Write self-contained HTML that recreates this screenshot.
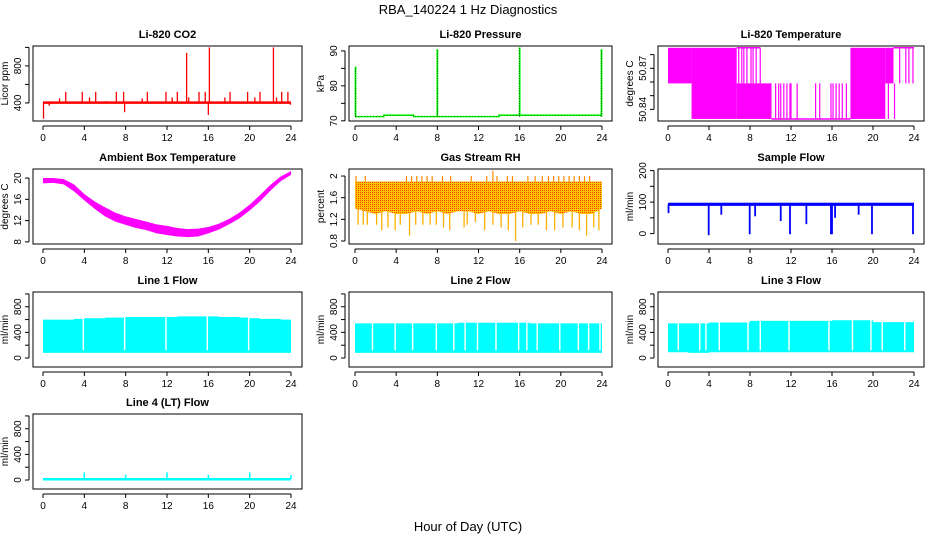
<!DOCTYPE html>
<html><head><meta charset="utf-8"><style>
body{margin:0;background:#fff;}
svg{display:block;font-family:"Liberation Sans",Arial,sans-serif;}
</style></head><body>
<svg id="root" width="936" height="540" viewBox="0 0 936 540">
<defs>
<pattern id="rhpat" width="2" height="2" patternUnits="userSpaceOnUse">
<rect width="2" height="2" fill="#ffc400"/><rect width="1" height="1" fill="#ff4000"/>
</pattern>
</defs>
<text x="468" y="14" text-anchor="middle" font-size="13">RBA_140224  1 Hz Diagnostics</text>
<text x="468" y="531" text-anchor="middle" font-size="13">Hour of Day (UTC)</text>
</svg>
<script>
// ---------- data ----------
const hourTicks = [0,4,8,12,16,20,24];
const co2Base = 403;
const co2SpikeT = [0.05,0.6,1.6,2.2,3.8,4.5,5.1,6.1,7.1,7.8,7.9,9.6,10.1,11.9,12.5,13.0,13.9,14.1,15.1,15.7,16.0,16.1,17.6,18.1,19.8,20.5,21.0,22.3,22.6,23.1,23.7,23.95];
const co2SpikeV = [230,370,450,520,520,460,520,420,520,520,300,450,520,520,460,520,940,460,520,520,270,1000,460,520,520,460,520,1000,460,520,520,380];
const presBaseT = [0,2.8,2.8,5.7,5.7,14,14,24];
const presBaseV = [71.2,71.2,71.6,71.6,71.2,71.2,71.6,71.6];
const presSpikeT = [0.05,8.0,16.0,23.95];
const presSpikeV = [85.5,90.5,91.0,90.5];
const tempT = 50.885, tempM = 50.859, tempB = 50.833;
const tempSegStart = [0,2.3,6.7,17.8,21.2];
const tempSegEnd = [2.3,6.7,10.1,21.2,22.0];
const tempSegHi = [tempT,tempT,tempM,tempT,tempT];
const tempSegLo = [tempM,tempB,tempB,tempB,tempM];
const tempLineT = [6.9,7.2,7.4,7.7,8.1,8.3,8.6,9.0,10.5,10.8,11.0,11.3,11.6,11.9,12.0,12.6,14.4,14.8,15.9,16.1,16.4,16.7,17.0,17.4,21.5,22.1,22.6,23.2,23.5,23.9];
const tempLineHi = [tempT,tempT,tempT,tempT,tempT,tempT,tempT,tempT,tempM,tempM,tempM,tempM,tempM,tempM,tempM,tempM,tempM,tempM,tempM,tempM,tempM,tempM,tempM,tempM,tempM,tempM,tempT,tempT,tempT,tempT];
const tempLineLo = [tempM,tempM,tempM,tempM,tempM,tempM,tempM,tempM,tempB,tempB,tempB,tempB,tempB,tempB,tempB,tempB,tempB,tempB,tempB,tempB,tempB,tempB,tempB,tempB,tempB,tempB,tempM,tempM,tempM,tempM];
const ambHours = [0,1,2,3,4,5,6,7,8,9,10,11,12,13,14,15,16,17,18,19,20,21,22,23,24];
const ambUpper = [20,20,19.8,18.8,17,15.6,14.5,13.5,12.8,12.3,11.8,11.3,11,10.6,10.4,10.5,10.8,11.4,12.3,13.5,15,16.8,18.7,20.3,21.3];
const ambLower = [19,19.1,18.8,17.5,15.8,14.2,12.8,11.8,11.2,10.6,10.2,9.6,9.3,9,8.9,9,9.6,10.3,11.3,12.4,13.9,15.6,17.6,19.4,20.6];
const rhUpper = [1.9,1.9,1.9,1.9,1.9,1.9,1.9,1.9,1.9,1.9,1.9,1.9,1.9,1.9,1.9,1.9,1.9,1.9,1.9,1.9,1.9,1.9,1.9,1.9,1.9];
const rhLower = [1.4,1.35,1.3,1.35,1.3,1.3,1.35,1.3,1.35,1.3,1.35,1.35,1.3,1.35,1.3,1.3,1.35,1.3,1.3,1.35,1.3,1.35,1.3,1.3,1.4];
const rhSpikeT = [0.3,0.8,1.2,2.1,2.6,3.2,3.9,4.4,5.3,5.9,6.6,7.3,7.9,8.6,9.2,10.6,10.9,11.7,12.6,13.4,14.2,14.9,15.6,16.3,17.1,17.8,18.6,19.4,20.2,21.1,21.8,22.5,23.2,23.7];
const rhSpikeV = [1.1,1.1,1.1,1.1,1.0,1.05,1.0,1.1,0.9,1.1,1.1,1.1,1.1,1.05,1.0,1.05,1.1,1.15,1.0,1.1,1.05,1.0,0.8,1.05,1.1,1.1,1.0,1.0,1.05,1.05,1.0,0.9,1.05,1.0];
const rhUpT = [0.1,1.0,5.0,5.5,6.0,6.5,7.0,7.5,8.5,9.3,11.3,12.8,13.4,13.8,14.8,15.3,16.8,17.5,18.2,18.8,19.3,19.8,20.3,20.8,21.3,21.8,22.3,22.8];
const rhUpV = [2.0,2.0,2.0,2.0,2.0,2.0,2.0,2.0,2.0,2.0,2.0,2.0,2.1,2.0,2.0,2.0,2.0,2.0,2.0,2.0,2.0,2.0,2.0,2.0,2.0,2.0,2.0,2.0];
const flowBaseHi = 98, flowBaseLo = 88;
const flowDipT = [0.05,3.97,5.2,7.97,8.5,11.0,11.9,13.5,15.9,16.0,16.3,18.6,19.9,23.9];
const flowDipV = [65,-5,60,-2,55,40,-2,30,-2,-2,50,60,-2,-2];
const lineHours = [0,1,2,3,4,5,6,7,8,9,10,11,12,13,14,15,16,17,18,19,20,21,22,23,24];
const line1Top = [600,600,600,610,620,620,630,630,640,640,640,640,640,650,650,650,650,640,640,630,620,610,610,600,520];
const line1Bot = [80,80,80,80,80,80,80,80,80,80,80,80,80,80,80,80,80,80,80,80,80,80,80,80,80];
const line1Gap = [3.9,7.9,11.9,15.9,19.9];
const line2Top = [540,540,540,540,540,540,540,540,540,540,550,550,550,550,550,550,550,540,540,540,540,540,540,540,480];
const line2Bot = [80,80,80,80,80,80,80,80,80,80,80,80,80,80,80,80,80,80,80,80,80,80,80,80,80];
const line2Gap = [1.7,3.9,5.6,7.9,9.6,10.7,11.9,13.7,15.9,16.7,17.7,19.9,21.7,22.7,23.8];
const line3Top = [540,540,540,540,555,555,555,555,580,580,580,580,580,580,580,580,590,590,590,590,560,560,560,560,460];
const line3Bot = [90,90,80,80,90,90,90,90,90,90,90,90,90,90,90,90,90,90,90,90,90,90,90,90,90];
const line3Gap = [1.0,3.1,3.7,5.0,7.8,9.0,11.8,15.7,18.0,19.8,20.9,23.1];
const line4Base = 12;
const line4SpikeT = [4,8,12,16,20,24];
const line4SpikeV = [120,80,120,80,120,80];

// ---------- layout ----------
const NS = "http://www.w3.org/2000/svg";
const root = document.getElementById('root');
const colBox = [[33,302],[349,612],[658,924]];
const colX = [[43,291],[355,602],[668,914]];
const rowTop = [46,169,292,414];
const BOXH = 75;
function mk(tag, parent){ const e=document.createElementNS(NS,tag); parent.appendChild(e); return e; }

function panel(col,row,name,title,ylab,ydom,ticks,labels){
  const g = mk('g',root);
  
  
  const bx0=colBox[col][0], bx1=colBox[col][1], by0=rowTop[row], by1=rowTop[row]+BOXH;
  const sx = h => colX[col][0] + (colX[col][1]-colX[col][0])*h/24;
  const sy = v => by1 - (v-ydom[0])/(ydom[1]-ydom[0])*BOXH;
  const clip = mk('clipPath',g); clip.setAttribute('id','clip-'+name);
  const cr = mk('rect',clip); cr.setAttribute('x',bx0); cr.setAttribute('y',by0); cr.setAttribute('width',bx1-bx0); cr.setAttribute('height',BOXH);
  const plot = mk('g',g); plot.setAttribute('clip-path','url(#clip-'+name+')');
  
  
  const t = mk('text',g); t.textContent=title;
  t.setAttribute('x',(bx0+bx1)/2); t.setAttribute('y',by0-8); t.setAttribute('text-anchor','middle');
  t.setAttribute('font-size','11'); t.setAttribute('font-weight','bold');
  
  
  const yl = mk('text',g); yl.textContent=ylab;
  const ylx=bx0-25, yly=(by0+by1)/2;
  yl.setAttribute('transform','translate('+ylx+','+yly+') rotate(-90)'); yl.setAttribute('text-anchor','middle'); yl.setAttribute('font-size','10');
  
  
  const xa = mk('g',g);
  
  
  const axY = by1+5;
  const xl = mk('line',xa); xl.setAttribute('x1',sx(0)); xl.setAttribute('x2',sx(24)); xl.setAttribute('y1',axY); xl.setAttribute('y2',axY); xl.setAttribute('stroke','#000');
  hourTicks.forEach(h=>{
    const tk = mk('line',xa); tk.setAttribute('x1',sx(h)); tk.setAttribute('x2',sx(h)); tk.setAttribute('y1',axY); tk.setAttribute('y2',axY+4); tk.setAttribute('stroke','#000');
    const tl = mk('text',xa); tl.textContent=h; tl.setAttribute('x',sx(h)); tl.setAttribute('y',axY+15); tl.setAttribute('text-anchor','middle'); tl.setAttribute('font-size','10');
    
    
  });
  const ya = mk('g',g);
  
  
  const axX = bx0-4;
  const yline = mk('line',ya); yline.setAttribute('x1',axX); yline.setAttribute('x2',axX); yline.setAttribute('y1',sy(ticks[0])); yline.setAttribute('y2',sy(ticks[ticks.length-1])); yline.setAttribute('stroke','#000');
  ticks.forEach(v=>{
    const tk = mk('line',ya); tk.setAttribute('x1',axX-4); tk.setAttribute('x2',axX); tk.setAttribute('y1',sy(v)); tk.setAttribute('y2',sy(v)); tk.setAttribute('stroke','#000');
  });
  labels.forEach(v=>{
    const tl = mk('text',ya); tl.textContent=v;
    tl.setAttribute('transform','translate('+(axX-8)+','+sy(v)+') rotate(-90)'); tl.setAttribute('text-anchor','middle'); tl.setAttribute('font-size','10');
    
    
  });
  const box = mk('rect',g); box.setAttribute('x',bx0); box.setAttribute('y',by0); box.setAttribute('width',bx1-bx0); box.setAttribute('height',BOXH);
  box.setAttribute('fill','none'); box.setAttribute('stroke','#000');
  return {plot,sx,sy};
}
function vline(p,parent,h,v1,v2,color,w,name){
  const l = mk('line',parent);
  l.setAttribute('x1',p.sx(h)); l.setAttribute('x2',p.sx(h)); l.setAttribute('y1',p.sy(v1)); l.setAttribute('y2',p.sy(v2));
  l.setAttribute('stroke',color); l.setAttribute('stroke-width',w);
  
  
  return l;
}
function band(p,parent,xs,hi,lo,fill,name,step){
  const pts=[];
  for(let i=0;i<xs.length;i++){
    if(step && i>0) pts.push(p.sx(xs[i])+','+p.sy(hi[i-1]));
    pts.push(p.sx(xs[i])+','+p.sy(hi[i]));
  }
  for(let i=xs.length-1;i>=0;i--){
    pts.push(p.sx(xs[i])+','+p.sy(lo[i]));
    if(step && i>0) pts.push(p.sx(xs[i])+','+p.sy(lo[i-1]));
  }
  const pg = mk('polygon',parent); pg.setAttribute('points',pts.join(' ')); pg.setAttribute('fill',fill);
  
  
  return pg;
}

// CO2
{
  const p = panel(0,0,'co2','Li-820 CO2','Licor ppm',[205,1015],[400,600,800,1000],[400,800]);
  co2SpikeT.forEach((h,i)=>{ vline(p,p.plot,h,co2Base,co2SpikeV[i],'#ff0000',1.3,'co2-spike'); });
  const b = mk('line',p.plot); b.setAttribute('x1',p.sx(0)); b.setAttribute('x2',p.sx(24)); b.setAttribute('y1',p.sy(co2Base)); b.setAttribute('y2',p.sy(co2Base)); b.setAttribute('stroke','#ff0000'); b.setAttribute('stroke-width','2.5');
  
  
}
// Pressure
{
  const p = panel(1,0,'pressure','Li-820 Pressure','kPa',[69.95,91.4],[70,75,80,85,90],[70,80,90]);
  const pl = mk('polyline',p.plot);
  pl.setAttribute('points',presBaseT.map((h,i)=>p.sx(h)+','+p.sy(presBaseV[i])).join(' '));
  pl.setAttribute('fill','none'); pl.setAttribute('stroke','#00ff00'); pl.setAttribute('stroke-width','1.6');
  
  
  presSpikeT.forEach((h,i)=>{
    vline(p,p.plot,h,71.2,presSpikeV[i],'#00ff00',1.8,'pressure-spike');
    const d = vline(p,p.plot,h,71.2,presSpikeV[i],'#000',0.7,'pressure-spike-dots'); d.setAttribute('stroke-dasharray','1,1.5');
  });
  const pd = mk('polyline',p.plot);
  pd.setAttribute('points',presBaseT.map((h,i)=>p.sx(h)+','+p.sy(presBaseV[i])).join(' '));
  pd.setAttribute('fill','none'); pd.setAttribute('stroke','#000'); pd.setAttribute('stroke-width','0.5'); pd.setAttribute('stroke-dasharray','1,2');
  
  
}
// Li-820 temperature
{
  const p = panel(2,0,'li820-temp','Li-820 Temperature','degrees C',[50.8315,50.8863],[50.84,50.85,50.86,50.87,50.88],[50.84,50.87]);
  tempSegStart.forEach((s,i)=>{
    const r = mk('rect',p.plot);
    r.setAttribute('x',p.sx(s)); r.setAttribute('width',p.sx(tempSegEnd[i])-p.sx(s));
    r.setAttribute('y',p.sy(tempSegHi[i])); r.setAttribute('height',p.sy(tempSegLo[i])-p.sy(tempSegHi[i]));
    r.setAttribute('fill','#ff00ff');
    
    
  });
  const bl = mk('line',p.plot); bl.setAttribute('x1',p.sx(10.1)); bl.setAttribute('x2',p.sx(17.8)); bl.setAttribute('y1',p.sy(tempB)); bl.setAttribute('y2',p.sy(tempB)); bl.setAttribute('stroke','#ff00ff'); bl.setAttribute('stroke-width','1.5');
  
  
  const tl = mk('line',p.plot); tl.setAttribute('x1',p.sx(6.7)); tl.setAttribute('x2',p.sx(9)); tl.setAttribute('y1',p.sy(tempT)); tl.setAttribute('y2',p.sy(tempT)); tl.setAttribute('stroke','#ff00ff'); tl.setAttribute('stroke-width','1.5');
  
  
  const tl2 = mk('line',p.plot); tl2.setAttribute('x1',p.sx(22)); tl2.setAttribute('x2',p.sx(24)); tl2.setAttribute('y1',p.sy(tempT)); tl2.setAttribute('y2',p.sy(tempT)); tl2.setAttribute('stroke','#ff00ff'); tl2.setAttribute('stroke-width','1.5');
  
  
  tempLineT.forEach((h,i)=>{ vline(p,p.plot,h,tempLineLo[i],tempLineHi[i],'#ff00ff',1.2,'temp-toggle'); });
}
// Ambient
{
  const p = panel(0,1,'ambient-temp','Ambient Box Temperature','degrees C',[7.6,21.7],[8,12,16,20],[8,12,16,20]);
  band(p,p.plot,ambHours,ambUpper,ambLower,'#ff00ff','ambient-band',false);
}
// RH
{
  const p = panel(1,1,'gas-rh','Gas Stream RH','percent',[0.745,2.13],[0.8,1.2,1.6,2.0],[0.8,1.2,1.6,2.0]);
  rhSpikeT.forEach((h,i)=>{ vline(p,p.plot,h,1.4,rhSpikeV[i],'#ffb000',1.3,'rh-down-spike'); });
  rhUpT.forEach((h,i)=>{ vline(p,p.plot,h,1.85,rhUpV[i],'#ff8800',1.2,'rh-up-spike'); });
  band(p,p.plot,lineHours,rhUpper,rhLower,'url(#rhpat)','rh-band',false);
}
// Sample flow
{
  const p = panel(2,1,'sample-flow','Sample Flow','ml/min',[-33,205],[0,50,100,150,200],[0,100,200]);
  const r = mk('rect',p.plot);
  r.setAttribute('x',p.sx(0)); r.setAttribute('width',p.sx(24)-p.sx(0));
  r.setAttribute('y',p.sy(flowBaseHi)); r.setAttribute('height',p.sy(flowBaseLo)-p.sy(flowBaseHi)); r.setAttribute('fill','#0000ff');
  
  
  flowDipT.forEach((h,i)=>{ vline(p,p.plot,h,92,flowDipV[i],'#0000ff',1.8,'sample-flow-dip'); });
}
// Line flows
function lineFlow(col,row,name,title,top,bot,gaps){
  const p = panel(col,row,name,title,'ml/min',[-140,1030],[0,200,400,600,800,1000],[0,400,800]);
  band(p,p.plot,lineHours,top,bot,'#00ffff',name+'-band',true);
  gaps.forEach(h=>{
    const g = mk('rect',p.plot);
    g.setAttribute('x',p.sx(h)-0.7); g.setAttribute('width',1.4);
    g.setAttribute('y',p.sy(1000)); g.setAttribute('height',p.sy(120)-p.sy(1000)); g.setAttribute('fill','#fff');
    
    
  });
  return p;
}
lineFlow(0,2,'line1-flow','Line 1 Flow',line1Top,line1Bot,line1Gap);
lineFlow(1,2,'line2-flow','Line 2 Flow',line2Top,line2Bot,line2Gap);
lineFlow(2,2,'line3-flow','Line 3 Flow',line3Top,line3Bot,line3Gap);
{
  const p = panel(0,3,'line4-flow','Line 4 (LT) Flow','ml/min',[-140,1030],[0,200,400,600,800,1000],[0,400,800]);
  const b = mk('line',p.plot); b.setAttribute('x1',p.sx(0)); b.setAttribute('x2',p.sx(24)); b.setAttribute('y1',p.sy(line4Base)); b.setAttribute('y2',p.sy(line4Base)); b.setAttribute('stroke','#00ffff'); b.setAttribute('stroke-width','2.5');
  
  
  line4SpikeT.forEach((h,i)=>{ vline(p,p.plot,h,line4Base,line4SpikeV[i],'#00ffff',1.5,'line4-spike'); });
}
</script>
</body></html>
